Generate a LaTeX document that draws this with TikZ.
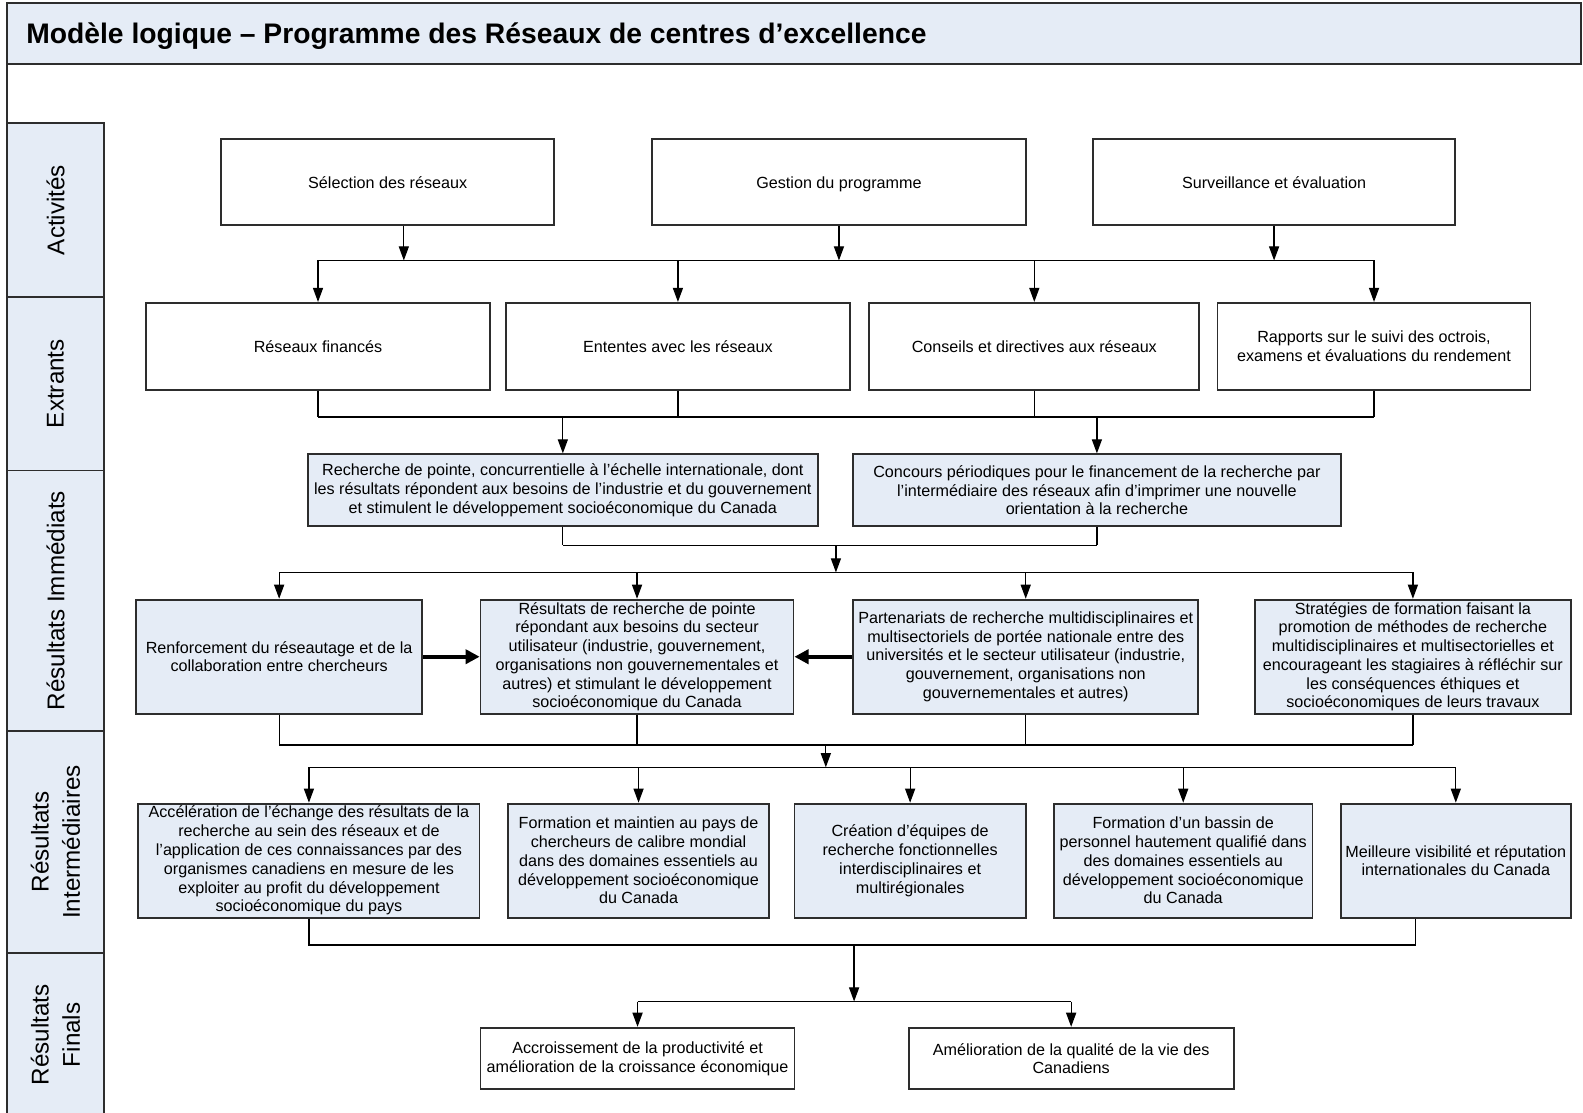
\documentclass[tikz,border=0pt]{standalone}
\usepackage{fontspec}
\setmainfont{Liberation Sans}
\usetikzlibrary{arrows.meta}
\definecolor{paleblue}{RGB}{229,236,246}
\definecolor{edgegray}{RGB}{45,45,45}

\begin{document}
\begin{tikzpicture}[x=0.5pt,y=-0.5pt,
                    box/.style={draw=edgegray, line width=0.9pt, align=center, inner sep=1pt,
                                font=\fontsize{8}{9.3}\selectfont},
                    res/.style={box, fill=paleblue},
                    link/.style={line width=0.6pt},
                    arr/.style={link, -{Triangle[length=7pt,width=5pt]}},
                    bigarr/.style={line width=2pt, -{Triangle[length=7pt,width=7pt]}},
                    lane/.style={draw=edgegray, line width=0.9pt, fill=paleblue},
                    lanetxt/.style={align=center, font=\fontsize{12}{15.5}\selectfont}]
\useasboundingbox (0,0) rectangle (1568,1102);
\draw[lane] (7,3) rectangle (1566,63);
\node[anchor=west, font=\fontsize{14}{16}\selectfont\bfseries] (titre) at (19,36)
    {Modèle logique – Programme des Réseaux de centres d’excellence};
\draw[edgegray, line width=0.9pt] (7,63) -- (7,122);
\foreach \ytop/\ybot/\lbl [count=\i] in {122/294/Activités, 294/466/Extrants,
        466/724/Résultats Immédiats, 724/944/{Résultats\\Intermédiaires}, 944/1106/{Résultats\\Finals}} {
    \draw[lane] (7,\ytop) rectangle (103,\ybot);
    \node[lanetxt, rotate=90] (lane\i) at (55,{(\ytop+\ybot)/2}) {\lbl};
}

\node[box, minimum width=165pt, minimum height=42.5pt] (sel) at (384,180.5) {Sélection des réseaux};
\node[box, minimum width=185pt, minimum height=42.5pt, text depth=0pt] (ges) at (831,180.5) {Gestion du programme};
\node[box, minimum width=179pt, minimum height=42.5pt] (sur) at (1262,180.5) {Surveillance et évaluation};

\node[box, minimum width=170pt, minimum height=43pt] (fin) at (315,343) {Réseaux financés};
\node[box, minimum width=170.5pt, minimum height=43pt] (ent) at (671.5,343) {Ententes avec les réseaux};
\node[box, minimum width=163.5pt, minimum height=43pt] (con) at (1024.5,343) {Conseils et directives aux réseaux};
\node[box, minimum width=155pt, minimum height=43pt] (rap) at (1361,343) {Rapports sur le suivi des octrois,\\examens et évaluations du rendement};

\node[res, minimum width=252.5pt, minimum height=35.5pt] (rdp) at (557.5,485.5) {Recherche de pointe, concurrentielle à l’échelle internationale, dont\\les résultats répondent aux besoins de l’industrie et du gouvernement\\et stimulent le développement socioéconomique du Canada};
\node[res, minimum width=241.5pt, minimum height=35.5pt] (cpf) at (1086.5,485.5) {Concours périodiques pour le financement de la recherche par\\l’intermédiaire des réseaux afin d’imprimer une nouvelle\\orientation à la recherche};

\node[res, minimum width=141.5pt, minimum height=56.5pt] (ren) at (276.5,650.5) {Renforcement du réseautage et de la\\collaboration entre chercheurs};
\node[res, minimum width=155pt, minimum height=56.5pt] (rrp) at (631,650.5) {Résultats de recherche de pointe\\répondant aux besoins du secteur\\utilisateur (industrie, gouvernement,\\organisations non gouvernementales et\\autres) et stimulant le développement\\socioéconomique du Canada};
\node[res, minimum width=171pt, minimum height=56.5pt] (par) at (1016,650.5) {Partenariats de recherche multidisciplinaires et\\multisectoriels de portée nationale entre des\\universités et le secteur utilisateur (industrie,\\gouvernement, organisations non\\gouvernementales et autres)};
\node[res, minimum width=156.5pt, minimum height=56.5pt] (str) at (1399.5,650.5) {Stratégies de formation faisant la\\promotion de méthodes de recherche\\multidisciplinaires et multisectorielles et\\encourageant les stagiaires à réfléchir sur\\les conséquences éthiques et\\socioéconomiques de leurs travaux};

\node[res, minimum width=169pt, minimum height=56.5pt] (acc) at (306,852.5) {Accélération de l’échange des résultats de la\\recherche au sein des réseaux et de\\l’application de ces connaissances par des\\organismes canadiens en mesure de les\\exploiter au profit du développement\\socioéconomique du pays};
\node[res, minimum width=129.5pt, minimum height=56.5pt] (for) at (632.5,852.5) {Formation et maintien au pays de\\chercheurs de calibre mondial\\dans des domaines essentiels au\\développement socioéconomique\\du Canada};
\node[res, minimum width=114.5pt, minimum height=56.5pt] (cre) at (901.5,852.5) {Création d’équipes de\\recherche fonctionnelles\\interdisciplinaires et\\multirégionales};
\node[res, minimum width=128pt, minimum height=56.5pt] (bas) at (1172,852.5) {Formation d’un bassin de\\personnel hautement qualifié dans\\des domaines essentiels au\\développement socioéconomique\\du Canada};
\node[res, minimum width=114pt, minimum height=56.5pt] (vis) at (1442,852.5) {Meilleure visibilité et réputation\\internationales du Canada};

\node[box, minimum width=155.5pt, minimum height=30.5pt] (pro) at (631.5,1048.5) {Accroissement de la productivité et\\amélioration de la croissance économique};
\node[box, minimum width=161pt, minimum height=30.5pt] (qua) at (1061,1048.5) {Amélioration de la qualité de la vie des\\Canadiens};

\coordinate (y1) at (0,258);
\coordinate (y2) at (0,413);
\coordinate (y3) at (0,540);
\coordinate (y4) at (0,567);
\coordinate (y5) at (0,738);
\coordinate (y6) at (0,760);
\coordinate (y7) at (0,936);
\coordinate (y8) at (0,992);
\coordinate (s1) at ([xshift=8pt]sel.south);
\coordinate (m1) at (828,540);
\coordinate (m2) at (818,738);
\coordinate (m3) at (846,936);
\coordinate (v1) at ([xshift=-20pt]vis.south);

\draw[arr] (s1) -- (s1 |- y1);
\foreach \n in {ges,sur} \draw[arr] (\n.south) -- (\n.south |- y1);
\draw[link] (fin.north |- y1) -- (rap.north |- y1);
\foreach \n in {fin,ent,con,rap} \draw[arr] (\n.north |- y1) -- (\n.north);

\foreach \n in {fin,ent,con,rap} \draw[link] (\n.south) -- (\n.south |- y2);
\draw[link] (fin.south |- y2) -- (rap.south |- y2);
\foreach \n in {rdp,cpf} \draw[arr] (\n.north |- y2) -- (\n.north);

\foreach \n in {rdp,cpf} \draw[link] (\n.south) -- (\n.south |- y3);
\draw[link] (rdp.south |- y3) -- (cpf.south |- y3);
\draw[arr] (m1) -- (m1 |- y4);
\draw[link] (ren.north |- y4) -- (str.north |- y4);
\foreach \n in {ren,rrp,par,str} \draw[arr] (\n.north |- y4) -- (\n.north);

\draw[bigarr] (ren.east) -- (rrp.west);
\draw[bigarr] (par.west) -- (rrp.east);

\foreach \n in {ren,rrp,par,str} \draw[link] (\n.south) -- (\n.south |- y5);
\draw[link] (ren.south |- y5) -- (str.south |- y5);
\draw[arr] (m2) -- (m2 |- y6);
\draw[link] (acc.north |- y6) -- (vis.north |- y6);
\foreach \n in {acc,for,cre,bas,vis} \draw[arr] (\n.north |- y6) -- (\n.north);

\draw[link] (acc.south) -- (acc.south |- y7) -- (v1 |- y7) -- (v1);
\draw[arr] (m3) -- (m3 |- y8);
\draw[link] (pro.north |- y8) -- (qua.north |- y8);
\foreach \n in {pro,qua} \draw[arr] (\n.north |- y8) -- (\n.north);
\end{tikzpicture}
\end{document}
